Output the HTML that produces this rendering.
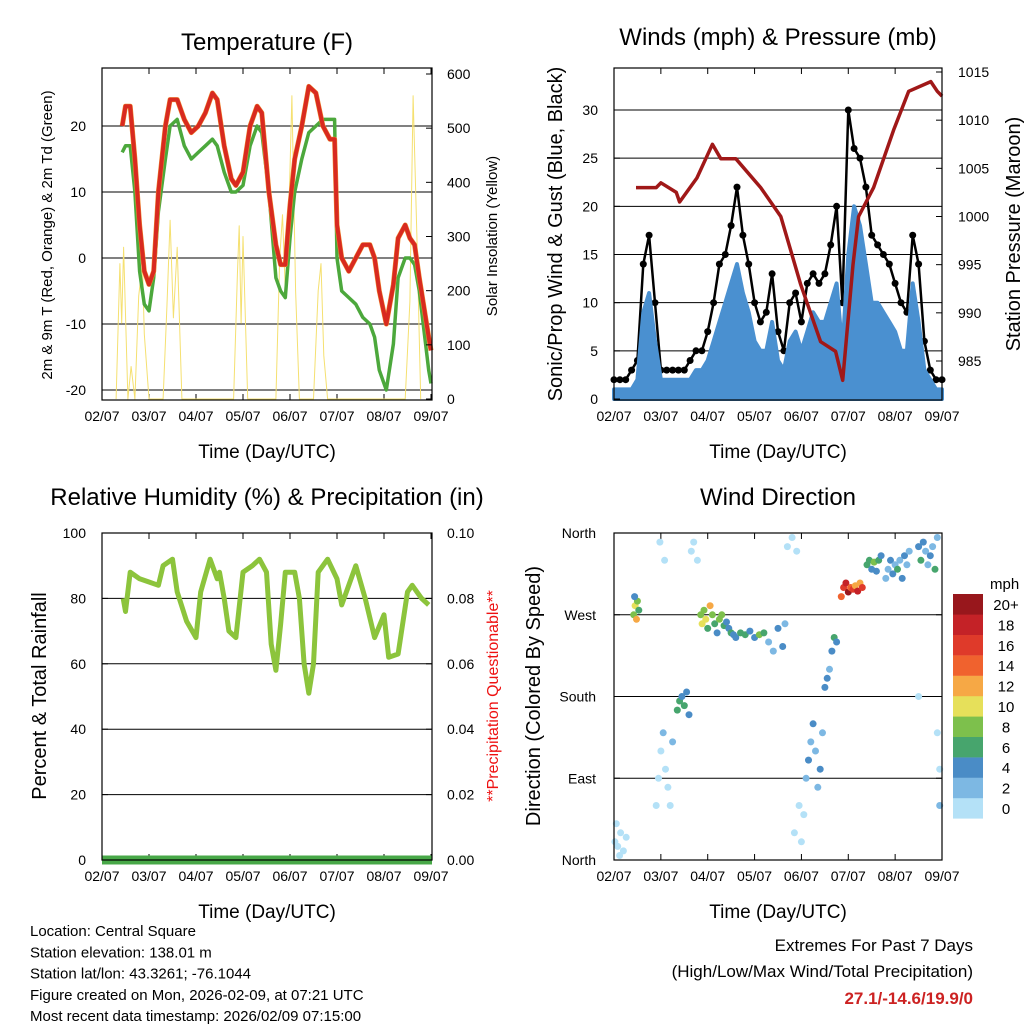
<!DOCTYPE html>
<html><head><meta charset="utf-8">
<style>
html,body{margin:0;padding:0;background:#fff;}
svg{display:block;font-family:"Liberation Sans",Arial,sans-serif;}
</style></head>
<body>
<svg id="chart" width="1024" height="1024" viewBox="0 0 1024 1024" xmlns="http://www.w3.org/2000/svg">
<rect width="1024" height="1024" fill="#fff"/>
</svg>
<script>
// ---------- DATA ----------
const dayLabels = ["02/07","03/07","04/07","05/07","06/07","07/07","08/07","09/07"];
const tDays = [0.43,0.5,0.6,0.7,0.8,0.9,1.0,1.1,1.2,1.35,1.45,1.6,1.75,1.9,2.05,2.2,2.35,2.45,2.6,2.75,2.85,3.0,3.15,3.3,3.4,3.55,3.7,3.8,3.9,4.0,4.1,4.25,4.4,4.55,4.7,4.85,4.95,5.0,5.1,5.25,5.4,5.55,5.7,5.8,5.9,6.05,6.2,6.3,6.45,6.55,6.65,6.75,6.95,7.0];
const tempRed = [20,23,23,15,5,-2,-4,-2,10,20,24,24,21,19,20,22,25,24,17,12,11,13,20,23,22,10,2,-1,-1,8,15,20,26,25,20,18,18,5,0,-2,0,2,2,0,-5,-10,-4,3,5,3,2,-3,-12,-14];
const dewGreen = [16,17,17,10,-2,-7,-8,-3,7,15,20,21,17,15,16,17,18,17,13,10,10,11,17,20,19,10,-3,-5,-6,3,10,15,19,20,21,21,21,0,-5,-6,-7,-9,-10,-12,-17,-20,-13,-3,0,0,-1,-5,-17,-19];
const solarDays = [0.3,0.38,0.42,0.46,0.55,0.62,0.7,0.78,0.86,0.9,1.0,1.3,1.38,1.45,1.52,1.6,1.7,2.8,2.88,2.92,2.96,3.0,3.1,3.7,3.78,3.84,3.9,3.98,4.04,4.12,4.2,4.5,4.6,4.66,4.72,4.8,6.45,6.55,6.62,6.7,6.78];
const solarVals = [0,250,140,280,0,60,0,190,250,120,0,0,170,330,150,280,0,0,230,320,140,300,0,0,260,340,200,360,560,200,0,0,200,250,80,0,0,180,560,300,0];
const wDays = [0,0.125,0.25,0.375,0.5,0.625,0.75,0.875,1,1.125,1.25,1.375,1.5,1.625,1.75,1.875,2,2.125,2.25,2.375,2.5,2.625,2.75,2.875,3,3.125,3.25,3.375,3.5,3.625,3.75,3.875,4,4.125,4.25,4.375,4.5,4.625,4.75,4.875,5,5.125,5.25,5.375,5.5,5.625,5.75,5.875,6,6.125,6.25,6.375,6.5,6.625,6.75,6.875,7];
const windBlue = [1,1,1,1,2,9,11,6,2,2,2,2,2,2,3,3,4,6,8,10,12,14,11,9,6,5,5,8,4,3,6,7,5,7,9,8,8,10,12,5,15,20,18,14,10,10,9,8,7,5,5,12,8,3,2,1,1];
const gustBlack = [2,2,2,3,4,14,17,10,3,3,3,3,3,4,5,5,7,10,14,15,18,22,17,14,10,8,9,13,7,5,10,11,8,12,13,12,13,16,20,10,30,26,25,22,17,16,15,14,12,10,9,17,14,6,3,2,2];
const presDays = [0.47,0.9,1.0,1.33,1.4,1.77,2.1,2.28,2.6,3.13,3.56,3.98,4.41,4.73,4.88,5.1,5.22,5.54,5.97,6.29,6.76,6.9,7.0];
const presVals = [1003,1003,1003.5,1002.5,1001.5,1004,1007.5,1006,1006,1003,1000,993,987,986,983,995,1000,1003,1009,1013,1014,1013,1012.5];
const rhDays = [0.45,0.5,0.6,0.8,1.0,1.2,1.3,1.5,1.6,1.8,2.0,2.1,2.3,2.45,2.5,2.6,2.7,2.85,3.0,3.2,3.35,3.5,3.6,3.7,3.8,3.9,4.1,4.2,4.3,4.4,4.5,4.6,4.8,5.0,5.1,5.2,5.4,5.6,5.8,6.0,6.1,6.3,6.5,6.6,6.8,6.95];
const rhVals = [80,76,88,86,85,84,90,92,82,73,68,82,92,86,88,80,70,68,88,90,92,88,66,58,72,88,88,80,60,51,60,88,92,86,78,82,90,80,68,75,62,63,82,84,80,78];
const precipDays = [0.45,7.0];
const precipVals = [0,0];
const wdDay = [0.02,0.08,0.14,0.2,0.26,0.05,0.12,0.42,0.45,0.48,0.5,0.53,0.44,0.9,0.95,1.0,1.05,1.1,1.15,1.2,1.25,0.98,1.08,1.35,1.4,1.45,1.5,1.55,1.6,1.65,1.7,1.78,1.85,1.88,1.92,1.96,2.0,2.05,2.1,2.15,2.2,2.25,2.3,2.35,2.4,2.45,2.5,2.55,2.6,2.7,2.8,2.9,3.0,3.1,3.2,3.3,3.4,3.5,3.6,3.65,3.7,3.8,3.9,4.0,4.05,3.85,3.95,4.1,4.15,4.2,4.25,4.3,4.35,4.4,4.45,4.5,4.55,4.6,4.65,4.7,4.75,4.85,4.9,4.95,5.0,5.05,5.1,5.15,5.2,5.25,5.3,5.4,5.45,5.5,5.55,5.6,5.65,5.7,5.8,5.85,5.9,5.95,6.0,6.05,6.1,6.15,6.2,6.25,6.3,6.5,6.55,6.6,6.65,6.7,6.75,6.8,6.85,6.9,6.95,6.9,6.95,6.5];
const wdDir = [20,15,30,10,25,40,5,270,280,265,285,275,290,60,90,120,140,100,80,60,130,350,330,165,175,180,170,185,160,340,350,330,270,260,275,265,255,280,270,260,250,265,270,258,262,255,250,248,245,250,248,252,245,248,250,240,230,255,235,260,345,355,340,20,50,30,60,90,110,130,150,120,80,100,140,190,200,210,230,245,240,290,300,305,295,300,298,302,296,305,300,325,330,320,328,318,330,335,310,320,330,315,325,320,330,310,335,325,340,345,330,350,340,325,335,345,320,355,100,140,60,180];
const wdSpd = [0,0,1,0,0,0,0,8,10,12,9,6,4,1,0,1,2,1,0,1,2,0,0,6,7,5,6,4,5,0,1,0,8,10,9,11,7,12,9,6,5,8,9,6,4,5,7,4,5,6,7,5,4,8,6,3,2,5,4,3,1,0,1,0,1,0,0,2,4,3,5,2,3,4,2,4,5,3,4,6,5,14,16,18,20,15,17,13,19,12,16,6,7,4,8,5,6,4,3,2,5,4,3,6,2,4,5,3,2,4,6,5,3,2,4,3,6,2,1,0,2,0];

// ---------- HELPERS ----------
const svg = document.getElementById('chart');
const NS = 'http://www.w3.org/2000/svg';
function mk(tag, attrs, parent){
  const e = document.createElementNS(NS, tag);
  for (const k in attrs) e.setAttribute(k, attrs[k]);
  (parent||svg).appendChild(e);
  return e;
}
function txt(s, x, y, size, anchor, extra){
  const t = mk('text', Object.assign({x:x, y:y, 'font-size':size, 'text-anchor':anchor||'middle', fill:'#000'}, extra||{}));
  t.textContent = s;
  return t;
}
function scale(d0,d1,r0,r1){ return v => r0 + (v-d0)/(d1-d0)*(r1-r0); }
const colorbarCols = ['#b4e1f7','#7db8e3','#4a8cc6','#47a56d','#7dc04c','#e6e05a','#f6a845','#f0622e','#df3a2a','#c42227','#98171c'];
const colorbarLabels = ['0','2','4','6','8','10','12','14','16','18','20+'];
function speedColor(s){
  let i = Math.floor(s/2+0.0001); if (i>10) i=10; if(i<0) i=0; return colorbarCols[i];
}
function frame(name, x0,y0,x1,y1, xs, gridYs){
  const g = mk('g', {});
  
  
  gridYs.forEach(y => {
    const l = mk('line', {x1:x0, x2:x1, y1:y, y2:y, stroke:'#000', 'stroke-width':1}, g);
    
    
  });
  dayLabels.forEach((lab,i) => {
    const x = xs(i);
    mk('line', {x1:x, x2:x, y1:y1, y2:y1-6, stroke:'#000'}, g);
    mk('line', {x1:x, x2:x, y1:y0, y2:y0+6, stroke:'#000'}, g);
    const t = txt(lab, x, y1+21, 14);
    
    
  });
  return g;
}
function border(x0,y0,x1,y1){
  const r = mk('rect', {x:x0, y:y0, width:x1-x0, height:y1-y0, fill:'none', stroke:'#000', 'stroke-width':1.2});
  
  
}
function yTicks(vals, ys, x, side, fmt, x0, x1){
  vals.forEach(v => {
    const y = ys(v);
    if (side==='left'){ mk('line',{x1:x0,x2:x0+6,y1:y,y2:y,stroke:'#000'}); }
    else { mk('line',{x1:x1,x2:x1-6,y1:y,y2:y,stroke:'#000'}); }
    const t = txt(fmt(v), x, y+5, 14, side==='left'?'end':'start');
    
    
  });
}
function poly(xsArr, ysArr, xs, ys, attrs, name){
  const pts = xsArr.map((d,i)=> xs(d).toFixed(1)+','+ys(ysArr[i]).toFixed(1)).join(' ');
  const p = mk('polyline', Object.assign({points:pts, fill:'none', 'stroke-linejoin':'round'}, attrs));
  
  
  return p;
}
function rotLabel(s, x, y, size, color, name){
  const t = txt(s, x, y, size, 'middle', {transform:'rotate(-90 '+x+' '+y+')', fill:color||'#000'});
  
  
}

// ---------- PANEL 1 ----------
(function(){
  const x0=102,x1=432,y0=68,y1=400;
  const xs = scale(0,7,x0,431);
  const ys = scale(0,10,258,192);
  const ysR = scale(0,600,399,74);
  frame('temperature-panel', x0,y0,x1,y1, xs, [20,10,0,-10,-20].map(ys));
  poly(solarDays, solarVals, xs, ysR, {stroke:'#f5e070','stroke-width':1}, 'solar-insolation-line');
  poly(tDays, dewGreen, xs, ys, {stroke:'#4ca83c','stroke-width':3.5}, 'dewpoint-green-line');
  poly(tDays, tempRed, xs, ys, {stroke:'#f08a30','stroke-width':5}, 'temp-9m-orange-line');
  poly(tDays, tempRed, xs, ys, {stroke:'#d82a20','stroke-width':4}, 'temp-2m-red-line');
  border(x0,y0,x1,y1);
  yTicks([20,10,0,-10,-20], ys, 86, 'left', v=>String(v), x0, x1);
  yTicks([0,100,200,300,400,500,600], ysR, 447, 'right', v=>String(v), x0, x1);
  const t = txt('Temperature (F)', 267, 50, 24);  
  rotLabel('2m & 9m T (Red, Orange) & 2m Td (Green)', 52, 235, 15, '#000', 'temperature-y-axis-title');
  rotLabel('Solar Insolation (Yellow)', 497, 236, 15, '#000', 'solar-y-axis-title');
  const tx = txt('Time (Day/UTC)', 267, 458, 19);  
})();

// ---------- PANEL 2 ----------
(function(){
  const x0=614,x1=942,y0=68,y1=400;
  const xs = scale(0,7,x0,942);
  const ys = scale(0,30,399,110);
  const ysP = scale(985,1015,361,72);
  frame('winds-panel', x0,y0,x1,y1, xs, [5,10,15,20,25,30].map(ys));
  poly(wDays, gustBlack, xs, ys, {stroke:'#000','stroke-width':2.5}, 'gust-line');
  gustBlack.forEach((g,i)=>{
    const c = mk('circle',{cx:xs(wDays[i]).toFixed(1), cy:ys(g).toFixed(1), r:3.5, fill:'#000'});
    
    
  });
  const pts = wDays.map((d,i)=> xs(d).toFixed(1)+','+ys(windBlue[i]).toFixed(1)).join(' ');
  const area = mk('polygon',{points: xs(0)+','+ys(0)+' '+pts+' '+xs(7)+','+ys(0), fill:'#4a90d0', stroke:'#4a90d0', 'stroke-width':4, 'stroke-linejoin':'round'});
  
  
  poly(presDays, presVals, xs, ysP, {stroke:'#a01818','stroke-width':3.5}, 'pressure-line');
  border(x0,y0,x1,y1);
  yTicks([0,5,10,15,20,25,30], ys, 598, 'left', v=>String(v), x0, x1);
  yTicks([985,990,995,1000,1005,1010,1015], ysP, 958, 'right', v=>String(v), x0, x1);
  const t = txt('Winds (mph) & Pressure (mb)', 778, 45, 24);  
  rotLabel('Sonic/Prop Wind & Gust (Blue, Black)', 562, 234, 20, '#000', 'winds-y-axis-title');
  rotLabel('Station Pressure (Maroon)', 1020, 234, 20, '#000', 'pressure-y-axis-title');
  const tx = txt('Time (Day/UTC)', 778, 458, 19);  
})();

// ---------- PANEL 3 ----------
(function(){
  const x0=102,x1=432,y0=533,y1=860;
  const xs = scale(0,7,x0,431);
  const ys = scale(0,100,860,533);
  const ysR = scale(0,0.1,860,533);
  frame('humidity-panel', x0,y0,x1,y1, xs, [20,40,60,80].map(ys));
  poly(rhDays, rhVals, xs, ys, {stroke:'#8cc43c','stroke-width':5}, 'relative-humidity-line');
  const pr = mk('line',{x1:x0, x2:x1, y1:ysR(precipVals[0]), y2:ysR(precipVals[1]), stroke:'#48a848','stroke-width':9});
  
  
  border(x0,y0,x1,y1);
  yTicks([0,20,40,60,80,100], ys, 86, 'left', v=>String(v), x0, x1);
  yTicks([0,0.02,0.04,0.06,0.08,0.1], ysR, 447, 'right', v=>v.toFixed(2), x0, x1);
  const t = txt('Relative Humidity (%) & Precipitation (in)', 267, 505, 24);  
  rotLabel('Percent & Total Rainfall', 46, 696, 20, '#000', 'humidity-y-axis-title');
  rotLabel('**Precipitation Questionable**', 498, 696, 16, '#ee1111', 'precip-warning-label');
  const tx = txt('Time (Day/UTC)', 267, 918, 19);  
})();

// ---------- PANEL 4 ----------
(function(){
  const x0=614,x1=942,y0=533,y1=860;
  const xs = scale(0,7,x0,942);
  const ys = scale(0,360,860,533);
  frame('wind-direction-panel', x0,y0,x1,y1, xs, [90,180,270].map(ys));
  wdDay.forEach((d,i)=>{
    const c = mk('circle',{cx:xs(d).toFixed(1), cy:ys(wdDir[i]).toFixed(1), r:3.5, fill:speedColor(wdSpd[i])});
    
    
  });
  border(x0,y0,x1,y1);
  const dirNames = ['North','East','South','West','North'];
  dirNames.forEach((n,i)=>{
    const y = ys(i*90);
    mk('line',{x1:x0,x2:x0+6,y1:y,y2:y,stroke:'#000'});
    mk('line',{x1:x1,x2:x1-6,y1:y,y2:y,stroke:'#000'});
    const t = txt(n, 596, y+5, 14, 'end');
    
    
  });
  const t = txt('Wind Direction', 778, 505, 24);  
  rotLabel('Direction (Colored By Speed)', 540, 696, 20, '#000', 'wind-direction-y-axis-title');
  const tx = txt('Time (Day/UTC)', 778, 918, 19);  
  const cu = txt('mph', 990, 589, 15, 'start');  
  colorbarCols.forEach((c,i)=>{
    const y = 594 + (10-i)*20.4;
    const r = mk('rect',{x:953, y:y, width:30, height:20.6, fill:c});
    
    
    const l = txt(colorbarLabels[i], 1006, y+16, 15, 'middle');
    
    
  });
})();

// ---------- FOOTER ----------
const infoLines = ['Location: Central Square','Station elevation: 138.01 m','Station lat/lon: 43.3261; -76.1044','Figure created on Mon, 2026-02-09, at 07:21 UTC','Most recent data timestamp: 2026/02/09 07:15:00'];
infoLines.forEach((s,i)=>{
  const t = txt(s, 30, 936+i*21.3, 15, 'start');
  
  
});
const e1 = txt('Extremes For Past 7 Days', 973, 951, 17, 'end');  
const e2 = txt('(High/Low/Max Wind/Total Precipitation)', 973, 977, 17, 'end');  
const e3 = txt('27.1/-14.6/19.9/0', 973, 1004, 17, 'end', {fill:'#cc2222','font-weight':'bold'});  
</script>
</body></html>
